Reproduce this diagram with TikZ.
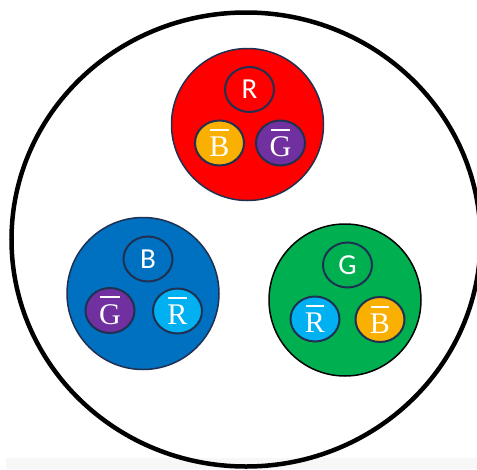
\documentclass[tikz,border=0pt]{standalone}
\usepackage{fontspec}
\setsansfont{Carlito}
\setmainfont{Liberation Serif}
\usetikzlibrary{shapes.geometric}
\definecolor{qred}{HTML}{FF0000}
\definecolor{qblue}{HTML}{0070C0}
\definecolor{qgreen}{HTML}{00B050}
\definecolor{qorange}{HTML}{FAB000}
\definecolor{qpurple}{HTML}{7030A0}
\definecolor{qcyan}{HTML}{00B0F0}
\definecolor{qnavy}{HTML}{1F3050}
\definecolor{strip}{HTML}{F7F7F7}
\tikzset{
  hadron/.style={circle, minimum size=152pt, inner sep=0pt, draw=qnavy, line width=1.5pt},
  quark/.style={ellipse, minimum width=49pt, minimum height=45pt, inner sep=0pt,
    draw=qnavy, line width=2pt, text=white, font=\sffamily\fontsize{29}{29}\selectfont},
  antiquark/.style={quark, font=\rmfamily\fontsize{30}{30}\selectfont},
}
% letter with a bar above it
\newcommand{\anti}[1]{\setbox0\hbox{#1}%
  \rlap{\hbox to\wd0{\hss\raisebox{\dimexpr\ht0+6pt\relax}{\vrule width 0.92\wd0 height 2pt depth 0pt}\hss}}\box0}
\begin{document}
\begin{tikzpicture}[x=1pt,y=-1pt]
  \useasboundingbox (0,0) rectangle (477,469);
  \clip (0,0) rectangle (477,469);
  \fill[white] (0,0) rectangle (477,469);
  \fill[strip] (6,458) rectangle (477,469);
  % colour-neutral container
  \draw[line width=4.5pt] (246,239.5) ellipse [x radius=234.5, y radius=227];

  % red hadron
  \node[hadron, fill=qred] (red) at (247.5,124.5) {};
  \node[quark, fill=qred] (redq) at (249.5,89.5) {R};
  \node[antiquark, fill=qorange] (redab) at (219.5,143) {\anti{B}};
  \node[antiquark, fill=qpurple] (redag) at (280.5,143) {\anti{G}};

  % blue hadron
  \node[hadron, fill=qblue] (blue) at (143,293.5) {};
  \node[quark, fill=qblue] (blueq) at (148,259) {B};
  \node[antiquark, fill=qpurple] (blueag) at (110,310.5) {\anti{G}};
  \node[antiquark, fill=qcyan] (bluear) at (177.5,311) {\anti{R}};

  % green hadron
  \node[hadron, fill=qgreen, draw=black] (green) at (345,300) {};
  \node[quark, fill=qgreen] (greenq) at (347.5,265) {G};
  \node[antiquark, fill=qcyan] (greenar) at (315,319) {\anti{R}};
  \node[antiquark, fill=qorange] (greenab) at (380,319.5) {\anti{B}};
\end{tikzpicture}
\end{document}
